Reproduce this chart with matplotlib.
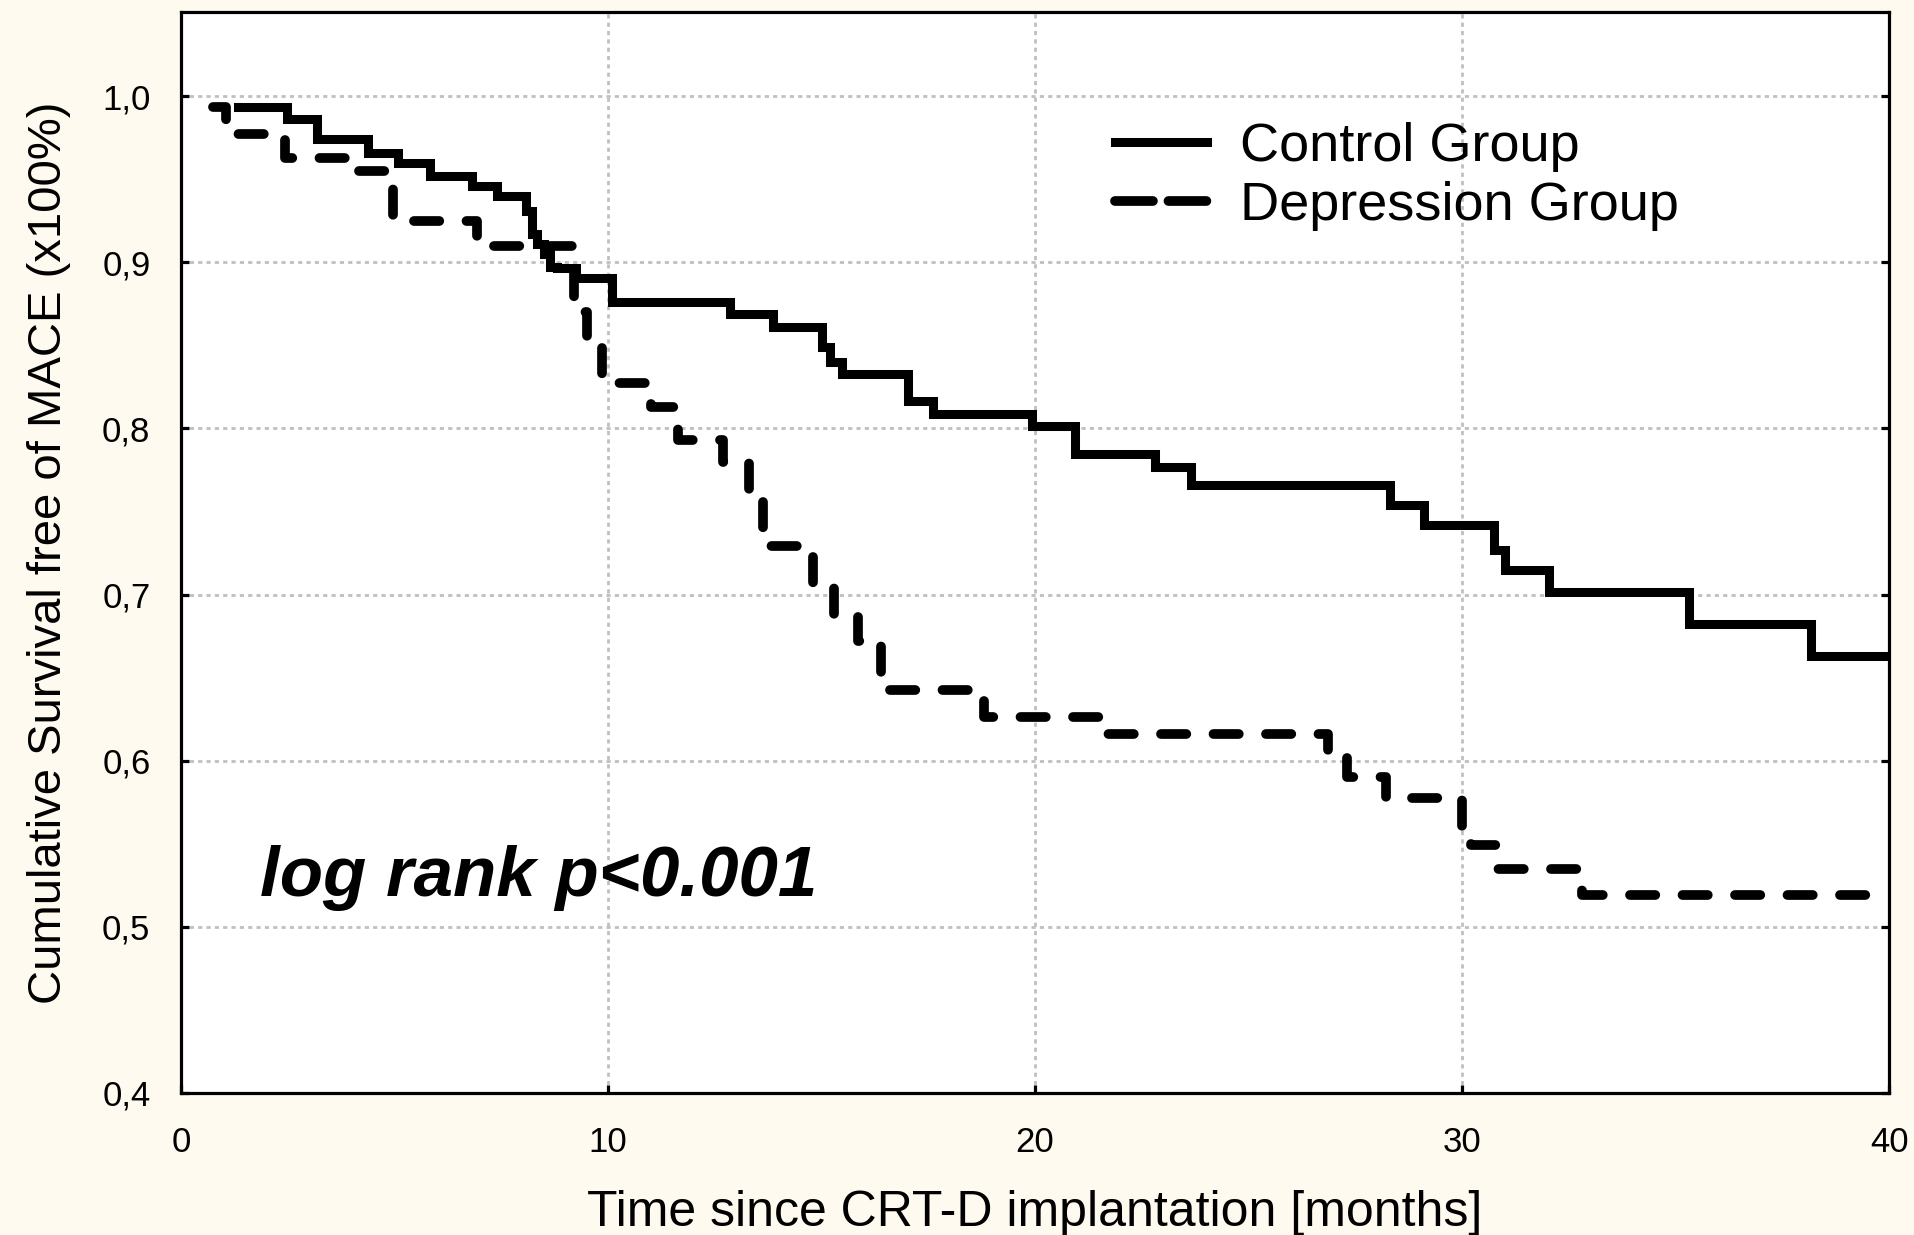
import matplotlib
matplotlib.use("Agg")
import matplotlib.pyplot as plt
from matplotlib.lines import Line2D

# Kaplan-Meier steps (time in months, survival after step)
control_t = [1.33, 2.48, 3.18, 4.38, 5.08, 5.83, 6.81, 7.39, 8.09, 8.21, 8.33, 8.49,
             8.64, 8.80, 9.25, 10.1, 12.86, 13.87, 15.0, 15.2, 15.47, 17.03, 17.62,
             19.93, 20.93, 22.8, 23.65, 28.3, 29.1, 30.75, 31.0, 32.04, 35.31, 38.16, 40.0]
control_s = [0.9936, 0.986, 0.974, 0.9655, 0.9595, 0.9516, 0.9456, 0.9396, 0.931, 0.917,
             0.911, 0.905, 0.897, 0.8965, 0.8905, 0.876, 0.869, 0.861, 0.849, 0.840,
             0.833, 0.8167, 0.8087, 0.8015, 0.7846, 0.7765, 0.766, 0.7536, 0.7416,
             0.727, 0.715, 0.7014, 0.6825, 0.663, 0.663]

depress_t = [0.75, 1.05, 2.44, 4.1, 4.97, 6.93, 9.2, 9.5, 9.86, 11.0, 11.65, 12.7, 13.3,
             13.63, 14.79, 15.3, 15.86, 16.4, 18.8, 21.5, 26.85, 27.3, 28.22, 30.0,
             30.2, 30.8, 32.8, 40.0]
depress_s = [0.9935, 0.977, 0.963, 0.955, 0.9245, 0.910, 0.870, 0.850, 0.8273, 0.8127,
             0.793, 0.780, 0.757, 0.7293, 0.704, 0.688, 0.672, 0.6423, 0.626, 0.616,
             0.603, 0.590, 0.5775, 0.560, 0.549, 0.535, 0.519, 0.519]

x_ticks = [0, 10, 20, 30, 40]
y_ticks = [0.4, 0.5, 0.6, 0.7, 0.8, 0.9, 1.0]
y_labels = ["0,4", "0,5", "0,6", "0,7", "0,8", "0,9", "1,0"]

plt.rcParams['font.family'] = ['Liberation Sans', 'DejaVu Sans']

fig = plt.figure(figsize=(19.15, 12.35), dpi=100, facecolor='#fffaf0')
ax = fig.add_axes([0.0945, 0.115, 0.892, 0.8753])
ax.set_facecolor('white')

ax.plot(control_t, control_s, drawstyle='steps-post', color='black', lw=6.5,
        solid_joinstyle='miter')
ax.plot(depress_t, depress_s, drawstyle='steps-post', color='black', lw=7,
        linestyle=(0, (2.6, 2.8)), dash_capstyle='round')

ax.set_xlim(0, 40)
ax.set_ylim(0.4, 1.0506)
ax.set_xticks(x_ticks)
ax.set_yticks(y_ticks)
ax.set_yticklabels(y_labels)
ax.grid(True, color='#c0c0c0', lw=2, linestyle=(0, (1.5, 1.5)))
ax.set_axisbelow(True)

for sp in ax.spines.values():
    sp.set_linewidth(2.3)
ax.tick_params(direction='in', length=6, width=2.3, labelsize=25, pad=22,
               right=True)
ax.tick_params(axis='x', pad=24)

ax.set_xlabel("Time since CRT-D implantation [months]", fontsize=36, labelpad=22)
ax.set_ylabel("Cumulative Survival free of MACE (x100%)", fontsize=34, labelpad=22)

ax.text(1.85, 0.5187, "log rank p<0.001", fontsize=51, fontweight='bold',
        fontstyle='italic', va='baseline', ha='left')

# legend, dashed sample shows two long dashes like the original
handles = [Line2D([], [], color='black', lw=6.5),
           Line2D([], [], color='black', lw=7, linestyle=(0, (3.9, 1.6)),
                  dash_capstyle='round')]
ax.legend(handles, ["Control Group", "Depression Group"], loc='upper left',
          bbox_to_anchor=(0.547, 0.898), frameon=False, fontsize=39,
          handlelength=1.7, handletextpad=0.6, labelspacing=0.17,
          borderpad=0, borderaxespad=0)

fig.savefig("out.png", dpi=100, facecolor=fig.get_facecolor())
